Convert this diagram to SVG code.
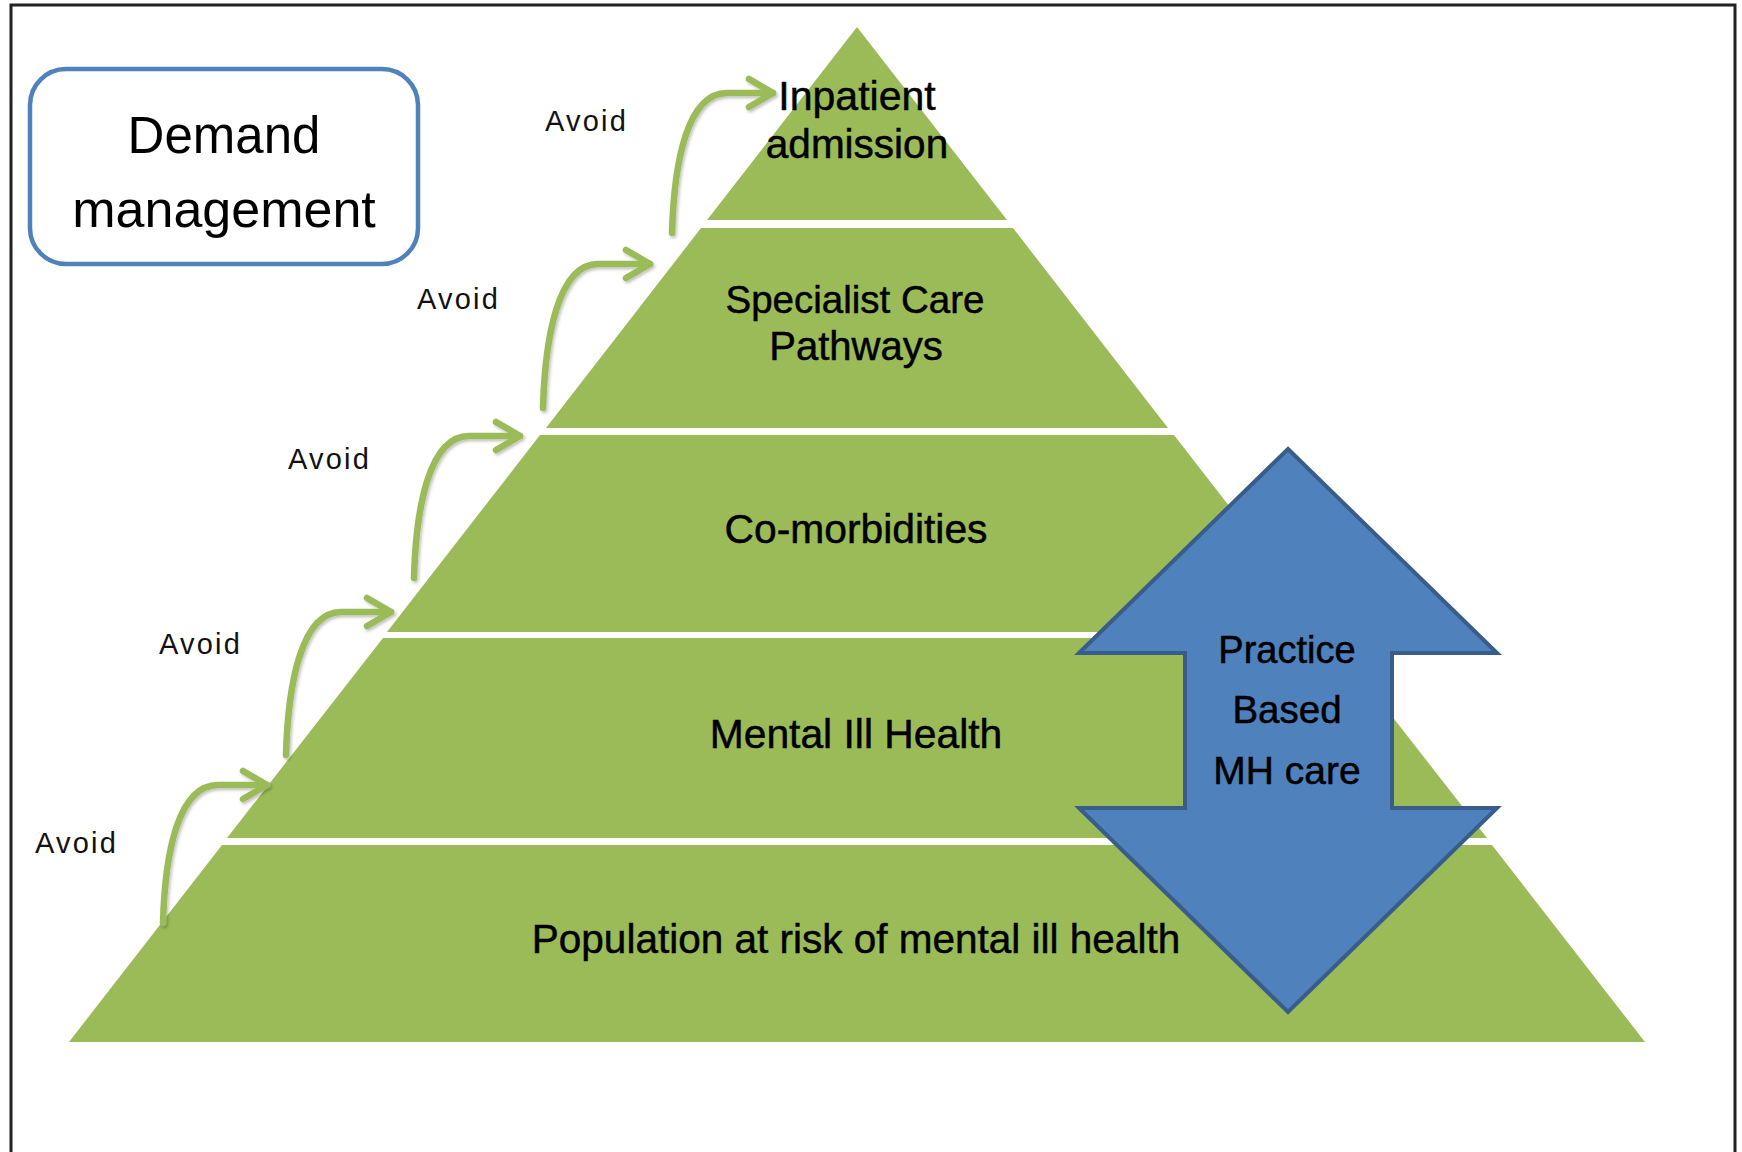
<svg xmlns="http://www.w3.org/2000/svg" width="1742" height="1152" viewBox="0 0 1742 1152">
  <style>
    .lbl { font-family: "Liberation Sans", Arial, sans-serif; fill: #000; text-anchor: middle; }
    .heavy { stroke: #000; stroke-width: 0.5px; }
    .band { fill: #9BBB59; }
    .avoid { font-family: "Liberation Sans", Arial, sans-serif; font-size: 29px; letter-spacing: 2.2px; fill: #111; }
    .conn { fill: none; stroke: #9BBB59; stroke-width: 6.5; stroke-linecap: round; marker-end: url(#chev); filter: url(#sh); }
  </style>
  <defs>
    <marker id="chev" markerUnits="userSpaceOnUse" viewBox="-34 -24 44 48" markerWidth="44" markerHeight="48" refX="0" refY="0" orient="auto">
      <path d="M-24,-14 L0,0 L-24,14" fill="none" stroke="#9BBB59" stroke-width="6.5" stroke-linecap="round" stroke-linejoin="round"/>
    </marker>
    <filter id="sh" x="-20%" y="-20%" width="140%" height="140%">
      <feDropShadow dx="1.5" dy="2" stdDeviation="1.5" flood-color="#000" flood-opacity="0.25"/>
    </filter>
  </defs>

  <rect x="0" y="0" width="1742" height="1152" fill="#fff"/>
  <rect id="frame" x="11" y="5" width="1724" height="1200" fill="none" stroke="#222" stroke-width="3"/>

  <g id="demand-management">
    <rect x="30" y="69" width="388" height="195" rx="36" ry="36" fill="#fff" stroke="#4F81BD" stroke-width="4.5"/>
    <text class="lbl" x="224" y="153" font-size="51">Demand</text>
    <text class="lbl" x="224" y="227" font-size="52">management</text>
  </g>

  <g id="band-inpatient">
    <polygon class="band" points="857,27 1007,220 707,220"/>
    <text class="lbl heavy" x="857" y="110" font-size="41">Inpatient</text>
    <text class="lbl heavy" x="857" y="158" font-size="40.5">admission</text>
  </g>
  <g id="band-specialist">
    <polygon class="band" points="701,228 1013,228 1168,428 546,428"/>
    <text class="lbl heavy" x="855" y="313" font-size="38.5">Specialist Care</text>
    <text class="lbl heavy" x="856" y="360" font-size="40">Pathways</text>
  </g>
  <g id="band-comorbidities">
    <polygon class="band" points="540,435 1174,435 1327,632 387,632"/>
    <text class="lbl heavy" x="856" y="543" font-size="40.8">Co-morbidities</text>
  </g>
  <g id="band-mental">
    <polygon class="band" points="383,638 1331,638 1487,838 227,838"/>
    <text class="lbl heavy" x="856" y="748" font-size="40.8">Mental Ill Health</text>
  </g>
  <g id="band-population">
    <polygon class="band" points="222,845 1492,845 1645,1042 69,1042"/>
    <text class="lbl heavy" x="856" y="953" font-size="40.5">Population at risk of mental ill health</text>
  </g>

  <g id="practice-based">
    <polygon points="1288,449 1497,653 1392,653 1392,808 1497,808 1288,1012 1079,808 1185,808 1185,653 1079,653" fill="#4F81BD" stroke="#385D8A" stroke-width="4" stroke-linejoin="miter"/>
    <text class="lbl heavy" x="1287" y="663" font-size="38">Practice</text>
    <text class="lbl heavy" x="1287" y="723" font-size="38.5">Based</text>
    <text class="lbl heavy" x="1287" y="784" font-size="39">MH care</text>
  </g>

  <g id="avoid-labels">
    <text class="avoid" x="545" y="131">Avoid</text>
    <text class="avoid" x="417" y="309">Avoid</text>
    <text class="avoid" x="288" y="469">Avoid</text>
    <text class="avoid" x="159" y="654">Avoid</text>
    <text class="avoid" x="35" y="853">Avoid</text>
  </g>

  <g id="connectors">
    <path class="conn" d="M672,233 C674,163 687,93 727,93 L773,93"/>
    <path class="conn" d="M543,408 C545,338 558,264 598,264 L650,264"/>
    <path class="conn" d="M414,578 C416,508 429,436 469,436 L520,436"/>
    <path class="conn" d="M286,755 C288,685 301,612 341,612 L391,612"/>
    <path class="conn" d="M163,923 C165,853 178,785 218,785 L267,785"/>
  </g>
</svg>
